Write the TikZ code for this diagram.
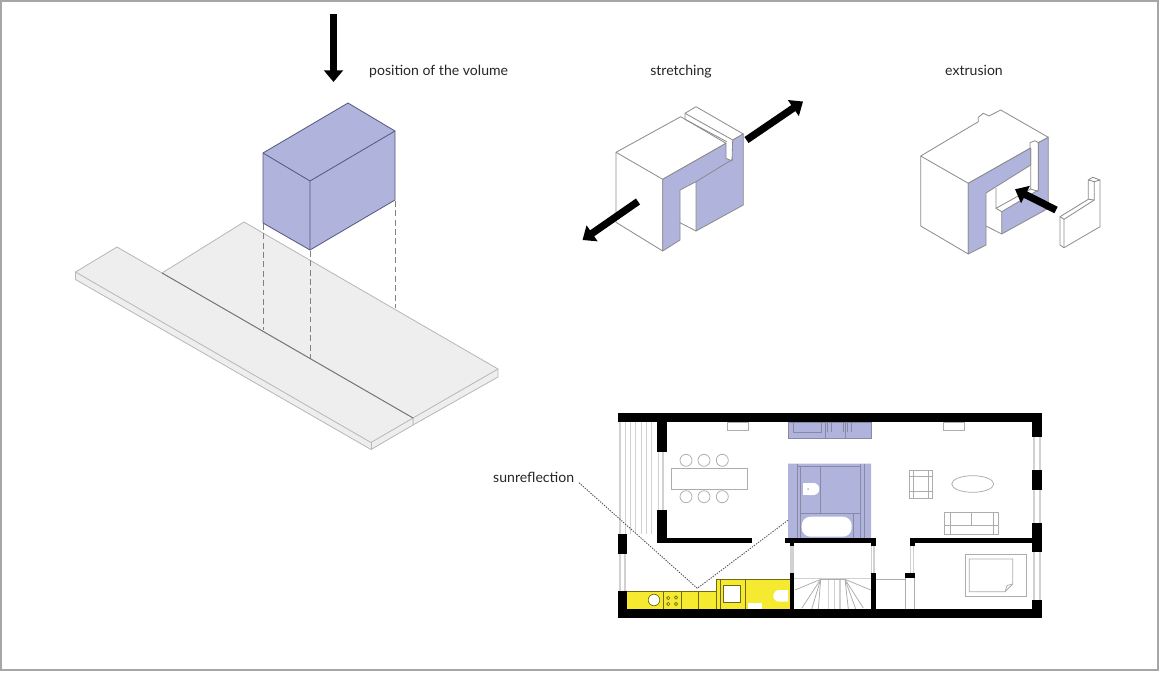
\documentclass[tikz,border=0pt]{standalone}
\usepackage{xcolor}
\usepackage{fontspec}
\setmainfont{Lato}
\usetikzlibrary{arrows.meta,calc}
\definecolor{volblue}{HTML}{B0B3DC}
\definecolor{voledge}{HTML}{55587F}
\definecolor{slabfill}{HTML}{EEEEEF}
\definecolor{lightline}{HTML}{B8B8B8}
\definecolor{kitchen}{HTML}{F5EA30}
\tikzset{
  label/.style={font=\fontsize{12}{14}\selectfont,text=black!85,inner sep=0pt},
  bigarrow/.style={line width=6.2pt,-{Triangle[length=10pt,width=16pt]}},
  model/.style={draw=black!45,line width=0.7pt,line join=round},
  blueface/.style={fill=volblue,draw=black!45,line width=0.7pt,line join=round},
  slab/.style={fill=slabfill,draw=lightline,line width=0.7pt,line join=round},
  furn/.style={draw=black!32,line width=0.65pt},
  win/.style={draw=black!18,line width=1pt},
  bathline/.style={draw=voledge!70,line width=0.55pt},
  kitline/.style={draw=black!55!kitchen,line width=0.55pt}
}
\begin{document}
\begin{tikzpicture}[x=0.03cm,y=-0.03cm]
  \useasboundingbox (0,0) rectangle (1160,677);
  \fill[white] (0,0) rectangle (1160,677);
  \draw[black!35,line width=0.9pt] (1,1) rectangle (1158,670);
  % labels
  \node[label,anchor=base west] (volumelabel) at (369,76) {position of the volume};
  \node[label,anchor=base] (stretchlabel) at (681,76) {stretching};
  \node[label,anchor=base] (extrudelabel) at (974,76) {extrusion};
  \node[label,anchor=base west] (sunlabel) at (493,482) {sunreflection};
  % slab
  \draw[slab] (162,273) -- (244,222) -- (498,369) -- (498,377) -- (413,425) -- (413,418) -- cycle;
  \draw[slab] (498,369) -- (413,418);
  \draw[slab] (75.5,272) -- (117,247) -- (413,418) -- (413,425) -- (371,449.5) -- (75.5,279.5) -- cycle;
  \draw[slab] (75.5,272) -- (371,442.5) -- (413,418);
  \draw[lightline,line width=0.7pt] (371,442.5) -- (371,449.5);
  \draw[black!55,line width=0.7pt] (162,273) -- (413,418);
  % volume
  \draw[voledge,fill=volblue,line width=0.7pt,line join=round] (348,103) -- (395,131) -- (395,200) -- (310,250) -- (263,223) -- (263,153) -- cycle;
  \draw[voledge,line width=0.7pt] (263,153) -- (310,181) -- (395,131) (310,181) -- (310,250);
  \foreach \x/\ya/\yb in {263/224/330,310/251/358,395/201/308} {
    \draw[black!50,line width=0.7pt,dash pattern=on 5pt off 3pt] (\x,\ya) -- (\x,\yb);
  }
  \coordinate (dropa) at (333.5,14);
  \coordinate (dropb) at (333.5,82);
  \draw[bigarrow] (dropa) -- (dropb);
  % stretching
  \draw[model] (616,152.3) -- (680.7,116.7) -- (726,143.3) -- (662.7,179.3) -- cycle;
  \draw[model] (616,152.3) -- (616,222.3) -- (662.7,251) -- (662.7,179.3);
  \draw[model] (685,119.3) -- (685,113.3) -- (696,106.7) -- (743.3,134) -- (732.7,140) -- (685,113.3);
  \draw[model] (685,119.3) -- (726.7,141.7);
  \fill[white] (680,190) -- (696,181.7) -- (696,231) -- (680,222.7) -- cycle;
  \draw[blueface] (662.7,179.3) -- (726,143.3) -- (726,158.3) -- (732,161) -- (732.7,140) -- (743.3,134) -- (743.3,205) -- (696,231) -- (696,181.7) -- (680,190) -- (680,240) -- (662.7,251) -- cycle;
  \draw[model] (680,222.7) -- (696,231);
  \draw[model] (696,181.7) -- (733,159);
  \coordinate (stretchnea) at (746.5,140);
  \coordinate (stretchneb) at (803,101.5);
  \coordinate (stretchswa) at (638,201.5);
  \coordinate (stretchswb) at (582.5,240);
  \draw[bigarrow] (stretchnea) -- (stretchneb);
  \draw[bigarrow] (stretchswa) -- (stretchswb);
  % extrusion
  \draw[model] (920.7,156) -- (978.3,121.7) -- (978.3,117.3) -- (983.3,113.3) -- (989,116) -- (1000.7,110) -- (1048.3,137.3) -- (1038.3,142.7) -- (1035,140.7) -- (1030,142.7) -- (1030,148.3) -- (968.3,183.3) -- cycle;
  \draw[model] (920.7,156) -- (920.7,226) -- (968.3,254) -- (968.3,183.3);
  \draw[blueface] (968.3,183.3) -- (1030.7,148) -- (1030.7,165) -- (986,193) -- (986,245) -- (968.3,254) -- cycle;
  \draw[blueface] (1038.3,142.7) -- (1048.3,137.3) -- (1048.3,208.3) -- (1001.7,234) -- (1001.7,211.7) -- (1038.3,190) -- cycle;
  \draw[model] (1030.7,148) -- (1030.7,189) -- (996,208.3) -- (996,188);
  \draw[model] (1038.3,142.7) -- (1038.3,190);
  \draw[model] (1030.7,189) -- (1038.3,191.5);
  \draw[model] (996,208.3) -- (1001.7,211.7);
  \draw[model] (986,226) -- (1001.7,234);
  \coordinate (extrudea) at (1056,210);
  \coordinate (extrudeb) at (1015,189.3);
  \draw[bigarrow] (extrudea) -- (extrudeb);
  \draw[model] (1060,216.7) -- (1088.3,199.3) -- (1088.3,180) -- (1092.7,177.3) -- (1100,180) -- (1100,226.7) -- (1064,247.7) -- (1060,245) -- cycle;
  \draw[model] (1060,216.7) -- (1064,219.3) -- (1064,247.7);
  \draw[model] (1064,219.3) -- (1094.3,200) -- (1094.3,181.7) -- (1100,180);
  \draw[model] (1088.3,180) -- (1094.3,181.7) (1088.3,199.3) -- (1094.3,200);
  % plan: terrace and windows
  \foreach \x in {620,625.3,...,656} {\draw[win] (\x,422) -- (\x,534);}
  \foreach \x in {658.5,663} {\draw[win] (\x,451) -- (\x,510);}
  \foreach \x in {620,625} {\draw[win] (\x,554) -- (\x,591);}
  \foreach \x in {1034,1040} {\draw[win] (\x,436) -- (\x,470) (\x,490) -- (\x,523) (\x,551) -- (\x,600);}
  \foreach \x in {791,793} {\draw[win] (\x,545) -- (\x,573);}
  \foreach \x in {871.5,874} {\draw[win] (\x,545) -- (\x,573);}
  \foreach \x in {910.5,913.5} {\draw[win] (\x,545) -- (\x,573);}
  % plan: bath block
  \fill[volblue] (788,422) rectangle (871,438.3) (788,463.5) rectangle (871,538.5);
  \draw[bathline] (788,422) rectangle (871,438.3);
  \draw[bathline] (793,422) -- (793,432) -- (821,432) -- (821,422) (825,422) -- (825,438) (845,438) -- (845,422);
  \foreach \x in {827,831,843,847,851} {\draw[bathline] (\x,423) -- (\x,432);}
  \draw[bathline] (797.7,463.5) -- (797.7,538) (797.7,466.7) -- (860,466.7);
  \draw[bathline] (820,466.7) -- (820,513.3) (800,513.3) -- (860,513.3) (800,466.7) -- (800,538);
  \draw[bathline] (853.3,513.3) -- (853.3,538) (860,463.5) -- (860,538) (864,463.5) -- (864,538);
  \fill[white,rounded corners=5pt] (803.3,483) rectangle (819.3,495);
  \fill[white] (803.3,483) rectangle (811,495);
  \fill[white,rounded corners=7.5pt] (801.7,516.7) rectangle (851.7,536.7);
  \fill[volblue] (808,489) circle (1);
  % plan: kitchen
  \fill[kitchen] (627,591) rectangle (717,609) (716.7,579.3) rectangle (790,609);
  \draw[kitline] (627,591) -- (716.7,591) -- (716.7,579.3) -- (790,579.3);
  \foreach \x in {663.3,681.7,698.3,716.7,745.7} {\draw[kitline] (\x,591) -- (\x,609);}
  \draw[kitline] (745.7,579.3) -- (745.7,591) (720,579.3) -- (720,609);
  \fill[white] (723.3,585.7) rectangle (740.7,602.3);
  \draw[kitline] (723.3,585.7) rectangle (740.7,602.3);
  \fill[white] (654,600) circle (5.5);
  \draw[kitline] (654,600) circle (5.8);
  \foreach \x/\y in {668.3/598,676/597.5,668.3/604,676/604} {\draw[kitline] (\x,\y) circle (1.7);}
  \fill[white,rounded corners=5pt] (773.3,590) rectangle (795,601.7);
  \fill[kitchen] (788,588) rectangle (790,604);
  \fill[white] (747.7,603.3) rectangle (761.7,608.5);
  % plan: stairs
  \draw[win] (794,578.5) -- (871,578.5);
  \foreach \x/\y in {795/590,801.7/608.3,811.7/609,818.3/609} {\draw[furn] (820.7,579.3) -- (\x,\y);}
  \foreach \x/\y in {848.3/609,855.7/609,863.3/608,870.7/590} {\draw[furn] (845,579.3) -- (\x,\y);}
  \foreach \x in {828.3,834.3,840} {\draw[win] (\x,579.3) -- (\x,609);}
  \draw[furn] (820.7,579) -- (845,579);
  \draw[furn] (875,579) -- (905.5,579) (905.5,577) -- (905.5,609) (914,577) -- (914,609);
  % plan: furniture
  \foreach \x in {686,704,722.3} {
    \foreach \y in {460.3,496.7} {\draw[furn] (\x,\y) circle (6);}
  }
  \draw[furn] (671.7,468.3) rectangle (747.3,489.3);
  \draw[furn] (727.3,422) rectangle (748.3,430) (943.3,422) rectangle (964,430);
  \draw[furn] (909.3,470) rectangle (932.7,498);
  \draw[furn] (913.3,470) -- (913.3,498) (928.7,470) -- (928.7,498) (909.3,476) -- (932.7,476) (909.3,491.7) -- (932.7,491.7);
  \draw[furn] (972.7,484) ellipse (21 and 8.3);
  \draw[furn] (944,512.3) rectangle (998.3,534.3);
  \draw[furn] (950,512.3) -- (950,534.3) (971,512.3) -- (971,525) (993.3,512.3) -- (993.3,534.3) (944,525) -- (998.3,525);
  \draw[furn] (965.7,554.3) rectangle (1026.7,596.7);
  \draw[furn] (1012.7,584) -- (1012.7,559) -- (969.3,559) -- (969.3,591.7) -- (1005,591.7) -- cycle;
  \draw[furn] (1005,591.7) -- (1007,585.5) -- (1012.7,584);
  % plan: walls
  \foreach \xa/\ya/\xb/\yb in {617.7/413.3/1041.7/422.3,617.7/609/1041.7/618.3,617.7/534.3/627.3/554,617.7/591/627.3/618.3,
    657.3/413.3/666.7/451.7,657.3/510/666.7/543.3,657.3/538.3/751.7/543.3,1032.3/413.3/1041.7/436.7,1032.3/470/1041.7/490,
    1032.3/523.3/1041.7/551.7,1032.3/600/1041.7/618.3,785.3/538.3/875.5/543.3,790/538.3/794.3/546,871/538.3/875.5/546,
    910/538.3/1032.3/543.3,910/538.3/915/546,790/572.7/794.3/609,871/572.7/875.5/609,905/572.7/914.5/577.5} {
    \fill[black] (\xa,\ya) rectangle (\xb,\yb);
  }
  % sun
  \coordinate (sunstart) at (579,482.7);
  \coordinate (sunhit) at (697.3,588.3);
  \coordinate (sunend) at (788.3,520);
  \draw[black!70,line width=0.75pt,dash pattern=on 1.1pt off 1.1pt] (sunstart) -- (sunhit) -- (sunend);
\end{tikzpicture}
\end{document}
